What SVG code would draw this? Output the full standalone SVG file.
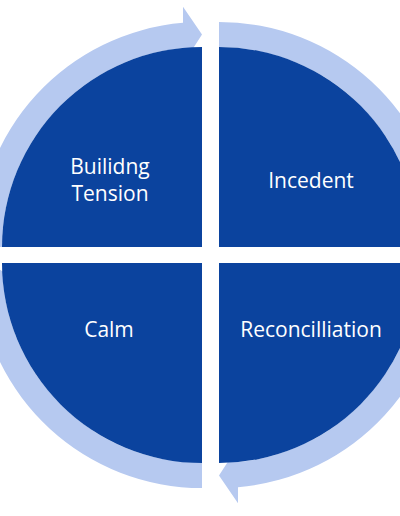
<svg xmlns="http://www.w3.org/2000/svg" xmlns:xlink="http://www.w3.org/1999/xlink" width="400" height="516" viewBox="0 0 400 516">
  <style>
    .q { fill: #0B439E; }
    .band { fill: #B6C9F0; }
    .lbl { fill: #FFFFFF; font-family: "Open Sans", "Liberation Sans", sans-serif; font-size: 21px; text-anchor: middle; }
  </style>
  <defs>
    <path id="arr" d="M -225 0 A 225 225 0 0 1 -19 -224.2 L -19 -240.25 L 0 -212.5 L -19 -183 L -19 -199.1 A 200 200 0 0 0 -200 0 Z"/>
  </defs>
  <rect width="400" height="516" fill="#FFFFFF"/>
  <g id="connectors" class="band">
    <use xlink:href="#arr" href="#arr" transform="translate(202,247)"/>
    <use xlink:href="#arr" href="#arr" transform="translate(219,247) rotate(90)"/>
    <use xlink:href="#arr" href="#arr" transform="translate(219,263) rotate(180)"/>
    <use xlink:href="#arr" href="#arr" transform="translate(202,263) rotate(270)"/>
  </g>
  <g id="building-tension">
    <path class="q" d="M 202 247 L 2 247 A 200 200 0 0 1 202 47 Z"/>
    <text class="lbl" x="110" y="174">Builidng</text>
    <text class="lbl" x="110" y="201">Tension</text>
  </g>
  <g id="incedent">
    <path class="q" d="M 219 247 L 219 47 A 200 200 0 0 1 419 247 Z"/>
    <text class="lbl" x="311" y="188">Incedent</text>
  </g>
  <g id="reconcilliation">
    <path class="q" d="M 219 263 L 419 263 A 200 200 0 0 1 219 463 Z"/>
    <text class="lbl" x="311" y="337">Reconcilliation</text>
  </g>
  <g id="calm">
    <path class="q" d="M 202 263 L 202 463 A 200 200 0 0 1 2 263 Z"/>
    <text class="lbl" x="109" y="337">Calm</text>
  </g>
</svg>
